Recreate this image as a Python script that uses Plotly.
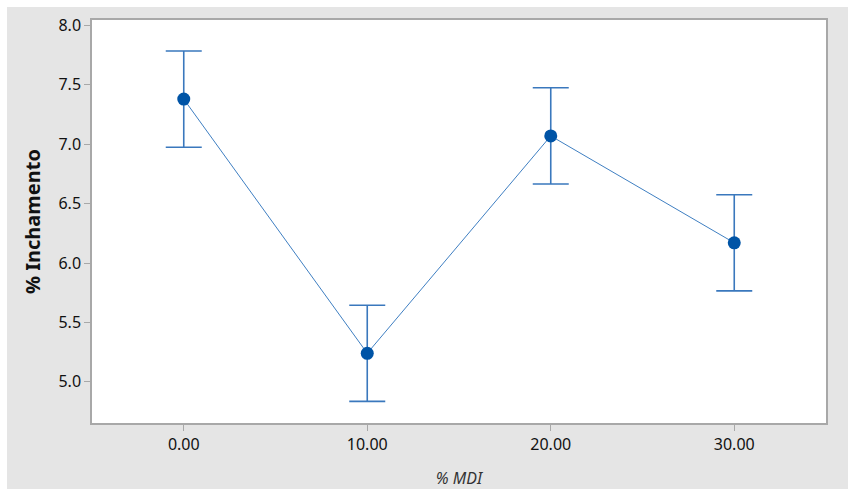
import plotly.graph_objects as go

mdi = [0, 10, 20, 30]
tick_labels = ["0.00", "10.00", "20.00", "30.00"]
inchamento = [7.38, 5.24, 7.07, 6.17]
err = [0.405, 0.405, 0.405, 0.405]
y_ticks = [5.0, 5.5, 6.0, 6.5, 7.0, 7.5, 8.0]

W, H = 848, 489
L, R, T, B = 92, 22, 20, 66

fig = go.Figure()
fig.add_trace(go.Scatter(
    x=mdi, y=inchamento,
    mode="lines+markers",
    line=dict(color="#3f7fc2", width=1),
    marker=dict(color="#0054a6", size=13, symbol="circle"),
    error_y=dict(type="data", array=err, visible=True, color="#3a78bd",
                 thickness=1.6, width=18),
    showlegend=False,
))

pw = W - L - R
ph = H - T - B
# white strips at top and left outside the gray frame
fig.add_shape(type="rect", xref="paper", yref="paper",
              x0=-L / pw, x1=(W - L) / pw, y0=1 + (T - 7) / ph, y1=1 + T / ph + 0.01,
              fillcolor="white", line_width=0, layer="below")
fig.add_shape(type="rect", xref="paper", yref="paper",
              x0=-L / pw - 0.01, x1=(7 - L) / pw, y0=-B / ph - 0.01, y1=1 + T / ph + 0.01,
              fillcolor="white", line_width=0, layer="below")

axis_common = dict(
    showgrid=False, zeroline=False, automargin=False,
    showline=True, mirror=True, linecolor="#a8a8a8", linewidth=1.5,
    ticks="outside", ticklen=6, tickcolor="#a8a8a8", tickwidth=1,
    tickfont=dict(family="Noto Sans", size=16, color="#111111"),
)

fig.update_layout(
    width=W, height=H,
    margin=dict(l=L, r=R, t=T, b=B),
    paper_bgcolor="#e5e5e5",
    plot_bgcolor="white",
    xaxis=dict(range=[-5, 35], tickvals=mdi, ticktext=tick_labels,
               title=dict(text="<i>% MDI</i>", font=dict(family="Noto Sans", size=16, color="#333333"),
                          standoff=20),
               **axis_common),
    yaxis=dict(range=[4.653, 8.046], tickvals=y_ticks,
               ticktext=[f"{v:.1f}" for v in y_ticks],
               title=dict(text="<b>% Inchamento</b>", font=dict(family="Noto Sans", size=20, color="#111111"),
                          standoff=12),
               **axis_common),
)

fig.write_html("out.html")
